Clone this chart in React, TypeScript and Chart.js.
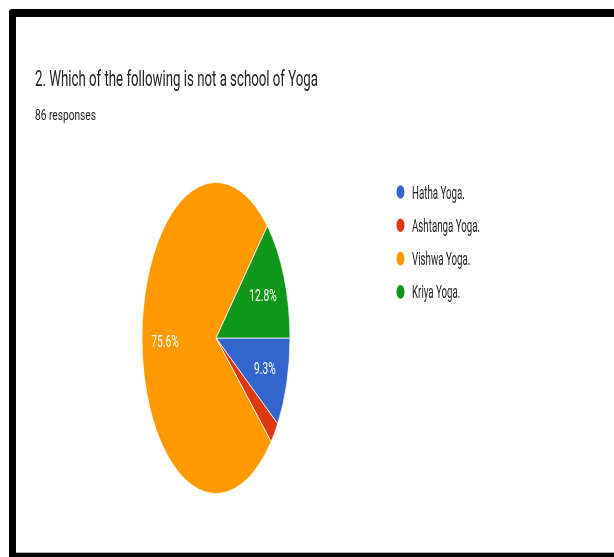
import React, { useEffect, useRef } from "react";
import { Chart, registerables } from "chart.js";

Chart.register(...registerables);

const titleText = "2. Which of the following is not a school of Yoga";
const subtitleText = "86 responses";
const categories = ["Hatha Yoga.", "Ashtanga Yoga.", "Vishwa Yoga.", "Kriya Yoga."];
const responses = [8, 2, 65, 11];
const sliceColors = ["#3366cc", "#dc3912", "#ff9900", "#109618"];

const PIE_SX = 0.476; // horizontal squash of the pie in the reference
const FONT = "Roboto, 'Noto Sans', Arial, sans-serif";

function drawText(
  ctx: CanvasRenderingContext2D,
  text: string,
  x: number,
  y: number,
  font: string,
  color: string,
  opts: { width?: number; scale?: number; align?: CanvasTextAlign; baseline?: CanvasTextBaseline }
) {
  ctx.save();
  ctx.font = font;
  ctx.fillStyle = color;
  ctx.textAlign = opts.align || "left";
  ctx.textBaseline = opts.baseline || "alphabetic";
  const w = ctx.measureText(text).width;
  const s = opts.width ? opts.width / w : opts.scale || 1;
  ctx.translate(x, y);
  ctx.scale(s, 1);
  ctx.fillText(text, 0, 0);
  ctx.restore();
}

const decorPlugin = {
  id: "decor",
  beforeDraw(chart: any) {
    const ctx = chart.ctx as CanvasRenderingContext2D;
    ctx.save();
    ctx.fillStyle = "#ffffff";
    ctx.fillRect(0, 0, chart.width, chart.height);
    // frame
    ctx.fillStyle = "#000000";
    ctx.beginPath();
    ctx.moveTo(12, 9);
    ctx.lineTo(614, 9);
    ctx.lineTo(614, 17);
    ctx.lineTo(16, 17);
    ctx.lineTo(16, 557);
    ctx.lineTo(9, 557);
    ctx.lineTo(9, 12);
    ctx.quadraticCurveTo(9, 9, 12, 9);
    ctx.closePath();
    ctx.fill();
    ctx.fillRect(9, 553, 605, 4);
    ctx.fillStyle = "#b0b0b0";
    ctx.fillRect(16, 552, 598, 1);
    ctx.restore();

    drawText(ctx, titleText, 35, 86, `22px ${FONT}`, "#202124", { width: 283 });
    drawText(ctx, subtitleText, 35, 119.5, `15px ${FONT}`, "#202124", { width: 61 });

    // legend
    const ds = chart.data.datasets[0];
    (chart.data.labels as string[]).forEach((lab, i) => {
      const cy = 192 + i * 33.3;
      ctx.save();
      ctx.fillStyle = ds.backgroundColor[i];
      ctx.beginPath();
      ctx.ellipse(400.5, cy, 4, 6.8, 0, 0, Math.PI * 2);
      ctx.fill();
      ctx.restore();
      drawText(ctx, lab, 412, cy + 6.5, `18px ${FONT}`, "#222222", { scale: 0.54 });
    });
  },
  beforeDatasetsDraw(chart: any) {
    const meta = chart.getDatasetMeta(0);
    const cx = meta.data[0].x;
    const ctx = chart.ctx as CanvasRenderingContext2D;
    ctx.save();
    ctx.translate(cx, 0);
    ctx.scale(PIE_SX, 1);
    ctx.translate(-cx, 0);
  },
  afterDatasetsDraw(chart: any) {
    const ctx = chart.ctx as CanvasRenderingContext2D;
    ctx.restore();
    const meta = chart.getDatasetMeta(0);
    const values = chart.data.datasets[0].data as number[];
    const total = values.reduce((a, b) => a + b, 0);
    meta.data.forEach((arc: any, i: number) => {
      const pct = (values[i] / total) * 100;
      if (pct < 5) return;
      const mid = (arc.startAngle + arc.endAngle) / 2;
      const r = arc.outerRadius * 0.69;
      const x = arc.x + Math.cos(mid) * r * PIE_SX;
      const y = arc.y + Math.sin(mid) * r;
      drawText(ctx, pct.toFixed(1) + "%", x, y + 1, `17px ${FONT}`, "#ffffff", {
        scale: 0.6,
        align: "center",
        baseline: "middle",
      });
    });
  },
};

export default function App() {
  const ref = useRef<HTMLCanvasElement>(null);
  useEffect(() => {
    if (!ref.current) return;
    const chart = new Chart(ref.current, {
      type: "pie",
      data: {
        labels: categories,
        datasets: [
          {
            data: responses,
            backgroundColor: sliceColors,
            borderColor: "#ffffff",
            borderWidth: 1,
          },
        ],
      },
      options: {
        responsive: false,
        animation: false,
        rotation: 90,
        layout: { padding: { left: 60, right: 242, top: 182, bottom: 63 } },
        plugins: {
          legend: { display: false },
          tooltip: { enabled: false },
          title: { display: false },
        },
      },
      plugins: [decorPlugin],
    });
    return () => chart.destroy();
  }, []);
  return (
    <canvas
      ref={ref}
      width={614}
      height={557}
      style={{ position: "fixed", left: 0, top: 0, width: 614, height: 557 }}
    />
  );
}
